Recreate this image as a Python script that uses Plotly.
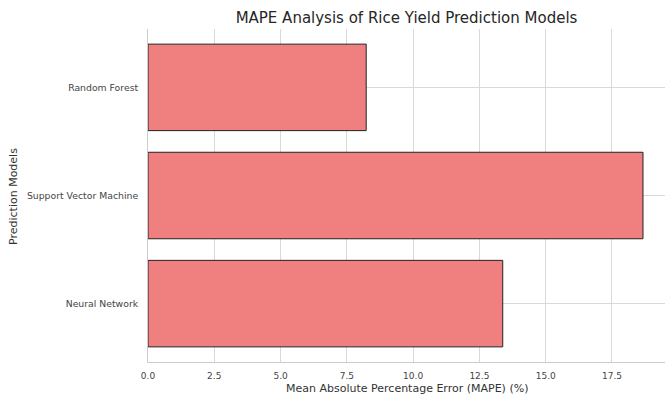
import plotly.graph_objects as go

models = ["Random Forest", "Support Vector Machine", "Neural Network"]
mape = [8.23, 18.67, 13.38]

fig = go.Figure(go.Bar(
    y=models, x=mape, orientation="h", width=0.8,
    marker=dict(color="#F08080", line=dict(color="#222222", width=1)),
))

fig.update_layout(
    width=665, height=396,
    margin=dict(l=148, r=0, t=29, b=34, autoexpand=False),
    paper_bgcolor="white", plot_bgcolor="white",
    font=dict(family="DejaVu Sans", color="#333333"),
    title=dict(text="MAPE Analysis of Rice Yield Prediction Models",
               x=0.5, xref="paper", y=1 - 18 / 396, yref="container",
               xanchor="center", yanchor="middle",
               font=dict(size=15, color="#262626")),
    showlegend=False,
    bargap=0.2,
)
fig.update_xaxes(
    range=[0, 19.5], dtick=2.5, tickformat=".1f", automargin=False,
    showgrid=True, gridcolor="#d9d9d9", gridwidth=1,
    showline=True, linecolor="#cccccc", zeroline=False,
    ticks="", tickfont=dict(size=9, color="#444444"), ticklabelstandoff=5,
)
fig.update_yaxes(
    autorange=False, range=[2.54, -0.54], categoryorder="array", categoryarray=models,
    automargin=False,
    showgrid=True, gridcolor="#d9d9d9", gridwidth=1,
    showline=True, linecolor="#cccccc", zeroline=False,
    ticks="", tickfont=dict(size=9.3, color="#444444"), ticklabelstandoff=7,
)
fig.add_annotation(text="Mean Absolute Percentage Error (MAPE) (%)", xref="paper", yref="paper",
                   x=0.5, y=-(388 - 362) / 333, xanchor="center", yanchor="middle",
                   showarrow=False, font=dict(size=11, color="#333333"))
fig.add_annotation(text="Prediction Models", xref="paper", yref="paper",
                   x=-(148 - 14) / 517, y=(362 - 197) / 333, xanchor="center", yanchor="middle",
                   textangle=-90, showarrow=False, font=dict(size=11, color="#333333"))

fig.write_html("out.html", config={"displayModeBar": False},
               post_script="document.body.style.margin='0px';document.body.style.overflow='hidden';")
